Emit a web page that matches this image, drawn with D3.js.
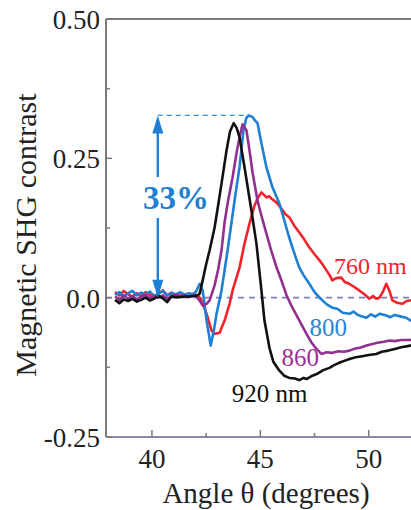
<!DOCTYPE html>
<html>
<head>
<meta charset="utf-8">
<script src="https://cdn.jsdelivr.net/npm/d3@7"></script>
<style>
  html, body { margin: 0; padding: 0; background: #fff; }
  svg { display: block; }
  text { font-family: "Liberation Serif", "DejaVu Serif", serif; }
</style>
</head>
<body>
<svg id="chart" width="411" height="510"></svg>
<script>
// ---- data (angle in degrees, magnetic SHG contrast) ----
const angle760 = [38.3,38.5,38.7,38.9,39.1,39.3,39.5,39.7,39.9,40.1,40.3,40.5,40.7,40.9,41.1,41.3,41.5,41.7,41.9,42.1,42.25,42.52,42.75,42.89,43.12,43.35,43.58,43.72,44.04,44.27,44.5,44.73,44.87,45.05,45.18,45.28,45.4,45.51,45.74,45.97,46.15,46.34,46.55,46.8,47.0,47.26,47.5,47.73,47.9,48.05,48.2,48.32,48.5,48.73,48.9,49.1,49.3,49.56,49.8,50.03,50.2,50.35,50.49,50.65,50.81,50.95,51.09,51.3,51.55,51.75,51.92,52.1];
const value760 = [0.010,0.004,0.012,0.006,0.002,0.008,0.003,0.010,0.005,0.001,0.007,0.013,0.004,0.009,0.003,0.008,0.006,0.002,0.007,0.004,-0.002,-0.029,-0.059,-0.065,-0.063,-0.041,-0.011,0.013,0.054,0.097,0.133,0.165,0.178,0.189,0.184,0.180,0.182,0.178,0.171,0.160,0.150,0.144,0.130,0.117,0.106,0.090,0.078,0.067,0.058,0.049,0.040,0.031,0.035,0.036,0.028,0.025,0.020,0.013,0.006,-0.002,0.003,-0.002,0.000,0.010,0.025,0.013,-0.005,-0.009,-0.011,-0.006,-0.005,-0.003];

const angle800 = [38.3,38.5,38.7,38.9,39.1,39.3,39.5,39.7,39.9,40.1,40.3,40.5,40.7,40.9,41.1,41.3,41.5,41.7,41.9,42.05,42.2,42.34,42.52,42.71,42.85,42.98,43.21,43.49,43.81,44.04,44.22,44.35,44.46,44.64,44.75,44.87,45.05,45.28,45.56,45.88,46.11,46.3,46.48,46.65,46.8,47.0,47.26,47.5,47.73,47.95,48.1,48.32,48.55,48.8,49.11,49.3,49.5,49.7,49.89,50.1,50.3,50.5,50.81,51.0,51.2,51.5,51.73,51.92,52.1];
const value800 = [0.005,0.010,0.002,0.008,0.012,0.004,0.009,0.006,0.011,0.003,0.007,0.012,0.004,0.008,0.006,0.010,0.005,0.008,0.006,0.012,0.025,0.013,-0.041,-0.086,-0.060,-0.029,0.013,0.085,0.174,0.234,0.300,0.322,0.327,0.324,0.318,0.313,0.277,0.234,0.198,0.169,0.138,0.112,0.090,0.070,0.054,0.040,0.025,0.010,0.000,-0.008,-0.013,-0.018,-0.020,-0.027,-0.029,-0.025,-0.031,-0.034,-0.036,-0.030,-0.034,-0.029,-0.032,-0.035,-0.031,-0.034,-0.036,-0.041,-0.040];

const angle860 = [38.3,38.5,38.7,38.9,39.1,39.3,39.5,39.7,39.9,40.1,40.3,40.5,40.7,40.9,41.1,41.3,41.5,41.7,41.9,42.05,42.2,42.34,42.52,42.66,42.89,43.05,43.21,43.35,43.49,43.72,43.9,44.04,44.18,44.36,44.5,44.64,44.87,45.05,45.28,45.5,45.75,46.0,46.21,46.48,46.8,47.13,47.35,47.59,47.82,48.05,48.33,48.6,48.85,49.11,49.4,49.6,49.9,50.17,50.4,50.7,50.95,51.2,51.5,51.92,52.1];
const value860 = [0.002,-0.004,0.004,-0.002,0.003,-0.003,0.002,0.005,-0.001,0.003,0.000,0.004,-0.002,0.003,0.006,0.002,0.004,0.001,0.003,0.002,-0.005,-0.014,-0.011,-0.005,0.022,0.050,0.085,0.135,0.169,0.216,0.259,0.288,0.311,0.300,0.264,0.225,0.174,0.147,0.115,0.085,0.054,0.028,0.004,-0.018,-0.041,-0.065,-0.080,-0.092,-0.101,-0.098,-0.099,-0.096,-0.097,-0.095,-0.091,-0.090,-0.086,-0.083,-0.081,-0.079,-0.077,-0.078,-0.076,-0.076,-0.075];

const angle920 = [38.3,38.5,38.7,38.9,39.1,39.3,39.5,39.7,39.9,40.1,40.3,40.5,40.7,40.9,41.1,41.3,41.5,41.7,41.9,42.1,42.2,42.34,42.5,42.66,42.89,43.05,43.21,43.44,43.6,43.77,43.9,44.04,44.27,44.45,44.59,44.82,45.05,45.19,45.42,45.6,45.88,46.1,46.34,46.6,46.8,47.0,47.13,47.4,47.6,47.9,48.19,48.4,48.7,48.9,49.11,49.4,49.7,50.0,50.35,50.6,50.9,51.2,51.5,51.92,52.1];
const value920 = [-0.004,-0.010,-0.003,-0.006,-0.002,-0.007,-0.004,0.000,-0.005,-0.002,0.003,-0.001,-0.008,0.002,0.001,0.001,0.002,0.002,0.003,0.004,0.007,0.031,0.060,0.085,0.126,0.165,0.205,0.264,0.298,0.313,0.305,0.288,0.234,0.190,0.156,0.097,0.013,-0.041,-0.090,-0.115,-0.131,-0.140,-0.144,-0.145,-0.148,-0.144,-0.146,-0.140,-0.137,-0.130,-0.126,-0.121,-0.116,-0.113,-0.110,-0.107,-0.105,-0.103,-0.101,-0.097,-0.095,-0.092,-0.089,-0.086,-0.085];

const seriesNames = ["760", "800", "860", "920"];
const seriesColors = ["#f2232b", "#1f7fd2", "#92308f", "#111111"];
const seriesLabels = ["760 nm", "800", "860", "920 nm"];
const labelColors = ["#f2232b", "#2a86d4", "#a0308f", "#111111"];
const labelPos = [[48.4, 0.043], [47.27, -0.068], [45.98, -0.122], [43.68, -0.188]];
const labelSizes = [24, 25, 25, 25];

const xTicks = [40, 45, 50];
const xMinorTicks = [42.5, 47.5];
const yTicks = [0.5, 0.25, 0, -0.25];
const yTickLabels = ["0.50", "0.25", "0.0", "-0.25"];
const yMinorTicks = [0.375, 0.125, -0.125];
const contrastPeak = 0.327;     // top of 800 nm peak
const contrastPeakAngle = 44.46;
const arrowAngle = 40.27;
const contrastLabel = "33%";

// ---- layout ----
const svg = d3.select("#chart");
const W = 411;
const mLeft = 106, mTop = 19, mBottom = 437;

const x = d3.scaleLinear().domain([37.88, 51.95]).range([mLeft, W]);
const y = d3.scaleLinear().domain([-0.25, 0.5]).range([mBottom, mTop]);

const axisColor = "#7a7a7a";

// zero dashed line
svg.append("line")
  .attr("x1", mLeft).attr("x2", W)
  .attr("y1", y(0)).attr("y2", y(0))
  .attr("stroke", "#7c80c0").attr("stroke-width", 1.6)
  .attr("stroke-dasharray", "6,5");

// curves
const series = [
  {a: angle760, v: value760},
  {a: angle800, v: value800},
  {a: angle860, v: value860},
  {a: angle920, v: value920}
];
const line = d3.line().x(d => x(d[0])).y(d => y(d[1])).curve(d3.curveLinear);
svg.append("defs").append("clipPath").attr("id", "plotclip")
  .append("rect").attr("x", mLeft).attr("y", mTop).attr("width", W - mLeft).attr("height", mBottom - mTop);
series.forEach((s, i) => {
  const pts = s.a.map((a, j) => [a, s.v[j]]);
  svg.append("path")
    .attr("d", line(pts))
    .attr("fill", "none")
    .attr("stroke", seriesColors[i])
    .attr("stroke-width", 2.6)
    .attr("stroke-linejoin", "round")
    .attr("clip-path", "url(#plotclip)");
});

// frame
svg.append("line").attr("x1", mLeft).attr("x2", mLeft).attr("y1", mTop).attr("y2", mBottom)
  .attr("stroke", axisColor).attr("stroke-width", 2);
svg.append("line").attr("x1", mLeft).attr("x2", W).attr("y1", mTop).attr("y2", mTop)
  .attr("stroke", axisColor).attr("stroke-width", 2);
svg.append("line").attr("x1", mLeft).attr("x2", W).attr("y1", mBottom).attr("y2", mBottom)
  .attr("stroke", "#8a8aa6").attr("stroke-width", 2);

// ticks (inward)
const tg = svg.append("g");
xTicks.forEach(t => tg.append("line").attr("x1", x(t)).attr("x2", x(t)).attr("y1", mBottom).attr("y2", mBottom - 7).attr("stroke", axisColor).attr("stroke-width", 1.5));
xMinorTicks.forEach(t => tg.append("line").attr("x1", x(t)).attr("x2", x(t)).attr("y1", mBottom).attr("y2", mBottom - 4).attr("stroke", axisColor).attr("stroke-width", 1.5));
yTicks.forEach(t => tg.append("line").attr("x1", mLeft).attr("x2", mLeft + 6).attr("y1", y(t)).attr("y2", y(t)).attr("stroke", axisColor).attr("stroke-width", 1.5));
yMinorTicks.forEach(t => tg.append("line").attr("x1", mLeft).attr("x2", mLeft + 4).attr("y1", y(t)).attr("y2", y(t)).attr("stroke", axisColor).attr("stroke-width", 1.5));

// tick labels
xTicks.forEach(t => svg.append("text").attr("x", x(t)).attr("y", 468)
  .attr("text-anchor", "middle").attr("font-size", 27).attr("fill", "#222").text(t));
yTicks.forEach((t, i) => svg.append("text").attr("x", 100).attr("y", y(t) + 10)
  .attr("text-anchor", "end").attr("font-size", 27).attr("fill", "#222").text(yTickLabels[i]));

// axis titles
svg.append("text").attr("x", 266).attr("y", 503).attr("text-anchor", "middle")
  .attr("font-size", 29).attr("fill", "#222").text("Angle θ (degrees)");
svg.append("text").attr("transform", "translate(36,235) rotate(-90)").attr("text-anchor", "middle")
  .attr("font-size", 30).attr("fill", "#222").text("Magnetic SHG contrast");

// series labels
seriesLabels.forEach((s, i) => svg.append("text")
  .attr("x", x(labelPos[i][0])).attr("y", y(labelPos[i][1]))
  .attr("font-size", labelSizes[i]).attr("fill", labelColors[i])
  .text(s));

// contrast annotation
const blue = "#1f7fd2";
svg.append("line").attr("x1", x(arrowAngle)).attr("x2", x(contrastPeakAngle))
  .attr("y1", y(contrastPeak)).attr("y2", y(contrastPeak))
  .attr("stroke", "#3a8fdc").attr("stroke-width", 1.4).attr("stroke-dasharray", "5,4");
const ax = x(arrowAngle);
const yTopA = y(contrastPeak), yBotA = y(0);
svg.append("line").attr("x1", ax).attr("x2", ax).attr("y1", yTopA + 14).attr("y2", 177)
  .attr("stroke", blue).attr("stroke-width", 2.4);
svg.append("line").attr("x1", ax).attr("x2", ax).attr("y1", 218).attr("y2", yBotA - 14)
  .attr("stroke", blue).attr("stroke-width", 2.4);
svg.append("path").attr("d", `M${ax},${yTopA} L${ax - 5.5},${yTopA + 18} L${ax + 5.5},${yTopA + 18} Z`).attr("fill", blue);
svg.append("path").attr("d", `M${ax},${yBotA} L${ax - 5.5},${yBotA - 18} L${ax + 5.5},${yBotA - 18} Z`).attr("fill", blue);
svg.append("text").attr("x", 176).attr("y", 209).attr("text-anchor", "middle")
  .attr("font-size", 33).attr("font-weight", "bold").attr("fill", blue).text(contrastLabel);
</script>
</body>
</html>
